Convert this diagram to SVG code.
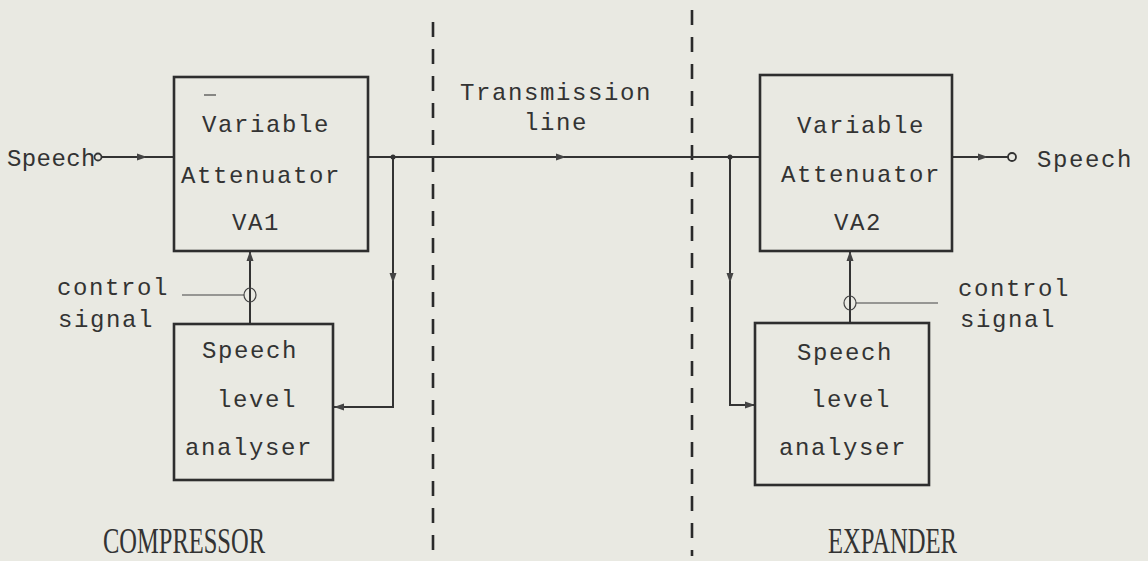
<svg xmlns="http://www.w3.org/2000/svg" width="1148" height="561" viewBox="0 0 1148 561">
<style>
.bg{fill:#e9e9e2}
.box{fill:none;stroke:#2e2e2e;stroke-width:2.6}
.ln{fill:none;stroke:#333;stroke-width:2}
.thin{fill:none;stroke:#444;stroke-width:1.2}
.dash{fill:none;stroke:#2a2a2a;stroke-width:2.6;stroke-dasharray:15 12}
.t{font-family:"Liberation Mono","DejaVu Sans Mono",monospace;font-size:24px;fill:#333;letter-spacing:1.6px}
.m{text-anchor:middle}
.cap{font-family:"Liberation Serif","DejaVu Serif",serif;font-size:36px;fill:#333}
.term{fill:#e9e9e2;stroke:#333;stroke-width:1.8}
</style>
<defs>
<marker id="ah" viewBox="0 0 10 8" refX="10" refY="4" markerWidth="10" markerHeight="8" markerUnits="userSpaceOnUse" orient="auto">
<path d="M0,0.5 L10,4 L0,7.5 Z" fill="#444"/>
</marker>
</defs>
<rect class="bg" x="0" y="0" width="1148" height="561"/>

<g id="dividers">
<line class="dash" x1="433" y1="22" x2="433" y2="556"/>
<line class="dash" x1="692" y1="10" x2="692" y2="556"/>
</g>

<g id="connectors">
<!-- input -->
<path class="ln" d="M101,157 L147,157" marker-end="url(#ah)"/>
<path class="ln" d="M145,157 L174,157"/>
<!-- transmission line -->
<path class="ln" d="M368,157 L566,157" marker-end="url(#ah)"/>
<path class="ln" d="M564,157 L760,157"/>
<!-- left tap -->
<path class="ln" d="M393,157 L393,283" marker-end="url(#ah)"/>
<path class="ln" d="M393,281 L393,407 L345,407"/>
<path class="ln" d="M346,407 L334,407" marker-end="url(#ah)"/>
<!-- left control -->
<path class="ln" d="M250,324 L250,251" marker-end="url(#ah)"/>
<line class="thin" x1="182" y1="295" x2="244" y2="295"/>
<ellipse class="thin" cx="250" cy="295" rx="6" ry="7"/>
<!-- right tap -->
<path class="ln" d="M730,157 L730,283" marker-end="url(#ah)"/>
<path class="ln" d="M730,281 L730,405 L742,405"/>
<path class="ln" d="M740,405 L755,405" marker-end="url(#ah)"/>
<!-- right control -->
<path class="ln" d="M850,323 L850,251" marker-end="url(#ah)"/>
<line class="thin" x1="856" y1="303" x2="938" y2="303"/>
<ellipse class="thin" cx="850" cy="303" rx="6" ry="7"/>
<!-- output -->
<path class="ln" d="M952,157 L988,157" marker-end="url(#ah)"/>
<path class="ln" d="M986,157 L1008,157"/>
<circle cx="393" cy="157" r="2.5" fill="#333"/>
<circle cx="730" cy="157" r="2.5" fill="#333"/>
<circle class="term" cx="98" cy="157" r="3.5"/>
<circle class="term" cx="1012" cy="157" r="4"/>
</g>

<g id="va1">
<rect class="box" x="174" y="77" width="194" height="174"/>
<line class="thin" x1="204" y1="95" x2="216" y2="95"/>
<text class="t m" x="266" y="132">Variable</text>
<text class="t m" x="261" y="183">Attenuator</text>
<text class="t m" x="256" y="230">VA1</text>
</g>

<g id="analyser1">
<rect class="box" x="174" y="324" width="159" height="156"/>
<text class="t m" x="250" y="358">Speech</text>
<text class="t m" x="257" y="407">level</text>
<text class="t m" x="249" y="455">analyser</text>
</g>

<g id="va2">
<rect class="box" x="760" y="75" width="192" height="176"/>
<text class="t m" x="861" y="133">Variable</text>
<text class="t m" x="861" y="182">Attenuator</text>
<text class="t m" x="858" y="230">VA2</text>
</g>

<g id="analyser2">
<rect class="box" x="755" y="323" width="174" height="162"/>
<text class="t m" x="845" y="360">Speech</text>
<text class="t m" x="851" y="407">level</text>
<text class="t m" x="843" y="455">analyser</text>
</g>

<g id="labels">
<text class="t" x="7" y="166" style="letter-spacing:0.4px">Speech</text>
<text class="t" x="1037" y="167">Speech</text>
<text class="t" x="57" y="295">control</text>
<text class="t" x="58" y="327">signal</text>
<text class="t" x="958" y="296">control</text>
<text class="t" x="960" y="327">signal</text>
<text class="t" x="460" y="100">Transmission</text>
<text class="t m" x="556" y="130">line</text>
<text class="cap" x="103" y="553" textLength="162" lengthAdjust="spacingAndGlyphs">COMPRESSOR</text>
<text class="cap" x="828" y="553" textLength="129" lengthAdjust="spacingAndGlyphs">EXPANDER</text>
</g>
</svg>
